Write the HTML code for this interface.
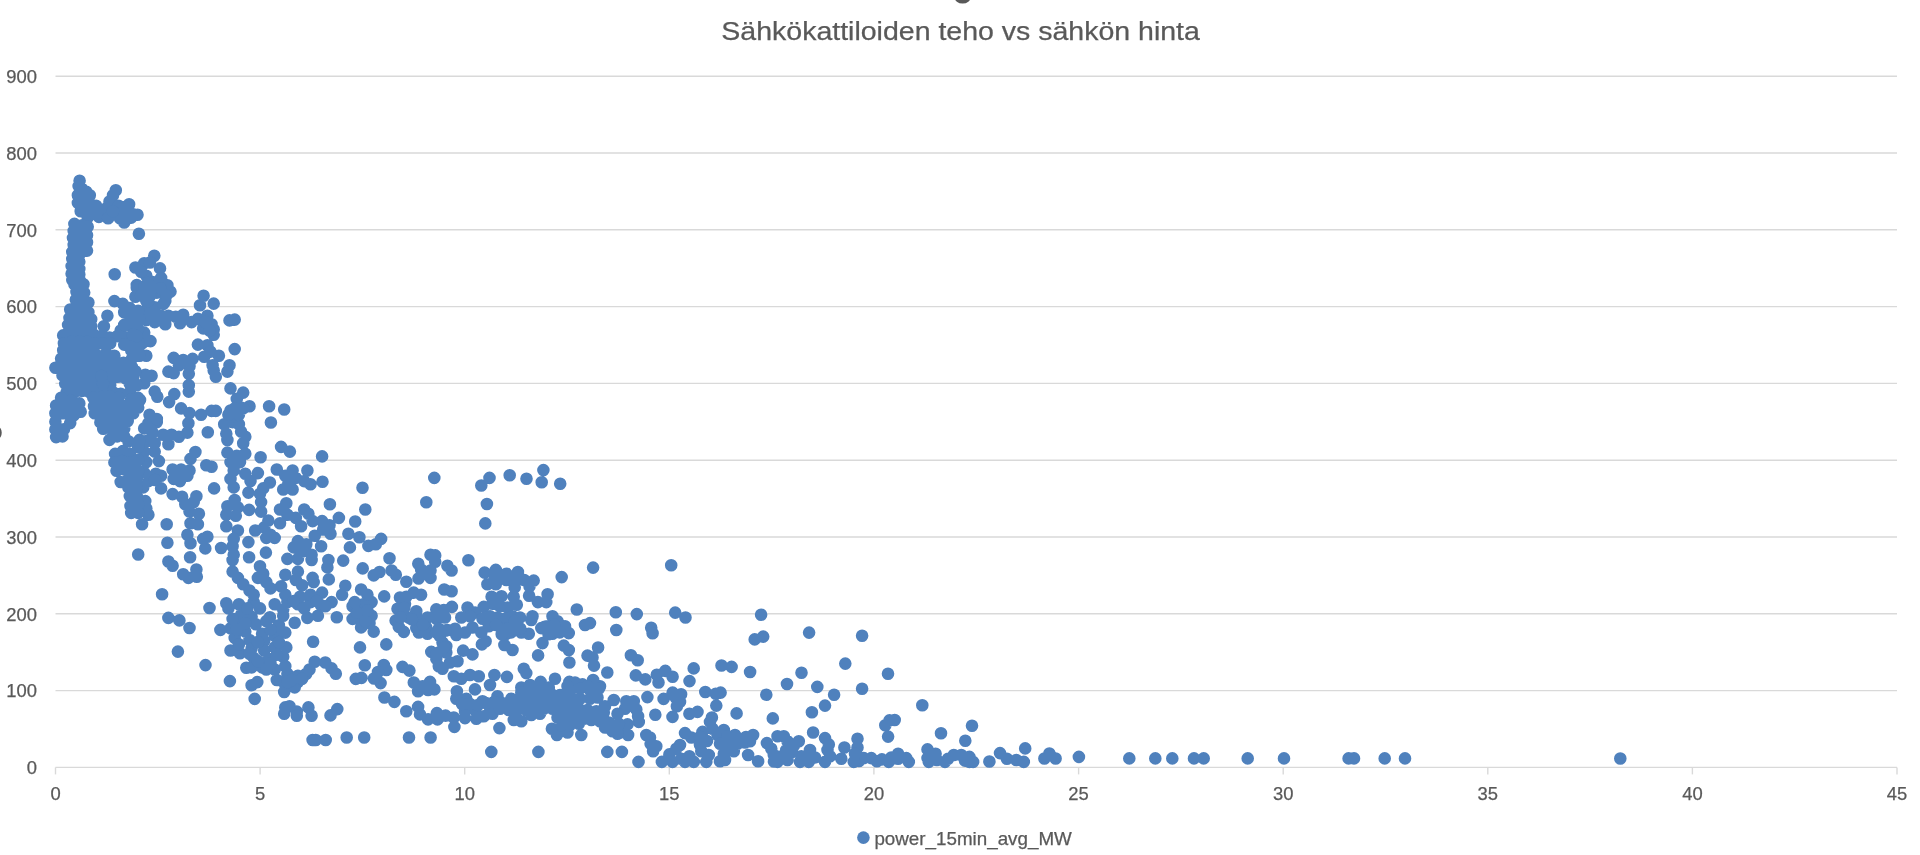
<!DOCTYPE html>
<html lang="fi">
<head>
<meta charset="utf-8">
<title>Sähkökattiloiden teho vs sähkön hinta</title>
<style>
html,body{margin:0;padding:0;background:#fff;}
body{width:1920px;height:855px;overflow:hidden;position:relative;font-family:"Liberation Sans",sans-serif;}
svg{position:absolute;left:0;top:0;display:block;will-change:transform;}
text{font-family:"Liberation Sans",sans-serif;fill:#595959;stroke:#595959;stroke-width:0.25px;}
.g line{stroke:#d9d9d9;stroke-width:1.4;}
.lbl text{font-size:18.4px;}
.pts path{fill:none;stroke:#4f81bd;stroke-width:12.6;stroke-linecap:round;}
</style>
</head>
<body>
<svg width="1920" height="855" viewBox="0 0 1920 855">
<rect width="1920" height="855" fill="#fff"/>
<!-- clipped remnants of cropped text -->
<ellipse cx="962.6" cy="-3.3" rx="6.7" ry="5.1" fill="none" stroke="#595959" stroke-width="3.4"/>
<ellipse cx="-1.5" cy="432.8" rx="3.2" ry="5.7" fill="#595959"/>
<!-- title -->
<text id="title" x="960.6" y="39.8" text-anchor="middle" font-size="25.8" textLength="478.6" lengthAdjust="spacingAndGlyphs">Sähkökattiloiden teho vs sähkön hinta</text>
<g class="g">
<line x1="55.5" y1="690.6" x2="1897.0" y2="690.6"/>
<line x1="55.5" y1="613.8" x2="1897.0" y2="613.8"/>
<line x1="55.5" y1="537.0" x2="1897.0" y2="537.0"/>
<line x1="55.5" y1="460.2" x2="1897.0" y2="460.2"/>
<line x1="55.5" y1="383.4" x2="1897.0" y2="383.4"/>
<line x1="55.5" y1="306.6" x2="1897.0" y2="306.6"/>
<line x1="55.5" y1="229.8" x2="1897.0" y2="229.8"/>
<line x1="55.5" y1="153.0" x2="1897.0" y2="153.0"/>
<line x1="55.5" y1="76.2" x2="1897.0" y2="76.2"/>
<line x1="55.5" y1="767.4" x2="1897.0" y2="767.4"/>
<line x1="55.5" y1="767.4" x2="55.5" y2="774.4"/>
<line x1="260.1" y1="767.4" x2="260.1" y2="774.4"/>
<line x1="464.7" y1="767.4" x2="464.7" y2="774.4"/>
<line x1="669.3" y1="767.4" x2="669.3" y2="774.4"/>
<line x1="873.9" y1="767.4" x2="873.9" y2="774.4"/>
<line x1="1078.6" y1="767.4" x2="1078.6" y2="774.4"/>
<line x1="1283.2" y1="767.4" x2="1283.2" y2="774.4"/>
<line x1="1487.8" y1="767.4" x2="1487.8" y2="774.4"/>
<line x1="1692.4" y1="767.4" x2="1692.4" y2="774.4"/>
<line x1="1897.0" y1="767.4" x2="1897.0" y2="774.4"/>
</g>
<g class="lbl">
<text x="36.9" y="774.1" text-anchor="end">0</text>
<text x="36.9" y="697.3" text-anchor="end">100</text>
<text x="36.9" y="620.5" text-anchor="end">200</text>
<text x="36.9" y="543.7" text-anchor="end">300</text>
<text x="36.9" y="466.9" text-anchor="end">400</text>
<text x="36.9" y="390.1" text-anchor="end">500</text>
<text x="36.9" y="313.3" text-anchor="end">600</text>
<text x="36.9" y="236.5" text-anchor="end">700</text>
<text x="36.9" y="159.7" text-anchor="end">800</text>
<text x="36.9" y="82.9" text-anchor="end">900</text>
<text x="55.5" y="800.3" text-anchor="middle">0</text>
<text x="260.1" y="800.3" text-anchor="middle">5</text>
<text x="464.7" y="800.3" text-anchor="middle">10</text>
<text x="669.3" y="800.3" text-anchor="middle">15</text>
<text x="873.9" y="800.3" text-anchor="middle">20</text>
<text x="1078.6" y="800.3" text-anchor="middle">25</text>
<text x="1283.2" y="800.3" text-anchor="middle">30</text>
<text x="1487.8" y="800.3" text-anchor="middle">35</text>
<text x="1692.4" y="800.3" text-anchor="middle">40</text>
<text x="1897.0" y="800.3" text-anchor="middle">45</text>
</g>
<g class="pts">
<path d="M1129.3 758.4h0M1155.3 758.4h0M1172.3 758.4h0M1194 758.4h0M1203.7 758.4h0M1247.7 758.4h0M1284 758.4h0M1348.6 758.4h0M1354 758.4h0M1384.7 758.4h0M1405 758.4h0M1620.3 758.5h0M862.1 635.8h0M888 673.7h0M862.1 688.8h0M922.3 705.3h0M885.3 725.3h0M889.5 720.4h0M894.7 720h0M888.1 736.6h0M941 733.3h0M972 725.7h0M965.3 740.8h0M857.5 738.8h0M857.5 747.5h0M1025.2 748.4h0M1078.9 756.9h0M863.8 758.1h0M859 761h0M871.3 758.1h0M876.9 761.3h0M881.9 759.4h0M888.8 761.9h0M891.3 757.5h0M898.1 753.8h0M898.1 758.8h0M906.3 758.1h0M908.8 761.9h0M927.5 749.4h0M927.5 758.1h0M928.8 761.9h0M935.6 753.8h0M936.9 760h0M945 761.9h0M948.1 758.8h0M953.8 755h0M961.3 755h0M965 760.6h0M969.4 756.9h0M969.4 761.9h0M973.1 761.9h0M989.4 761.5h0M1000 753.1h0M1006.9 758.8h0M1016.3 760h0M1023.8 761.9h0M1044.4 758.5h0M1049.4 753.5h0M1055.6 758.5h0M671.2 565.3h0M636.8 614.1h0M675.2 612.6h0M685.5 617.5h0M761.1 614.7h0M651.2 627.8h0"/>
<path d="M652.6 633.3h0M754.7 639.4h0M763.2 636.6h0M809.1 632.6h0M630.9 655.2h0M637.7 660.2h0M721.5 665.5h0M731.6 666.9h0M693.7 668.4h0M750.1 672h0M845.3 663.6h0M801.5 672.8h0M635.8 675.4h0M645.3 679.4h0M656.8 674.7h0M665.3 670.9h0M658.5 682.5h0M672.6 676.8h0M689.5 681.1h0M787 684h0M817.3 686.9h0M705.3 692h0M715.8 693.7h0M720.6 692.6h0M766.3 694.7h0M834.1 694.7h0M647.4 697.1h0M663.6 698.9h0M672.6 692.6h0M681.1 694.3h0M675.8 697.9h0M680 701.9h0M676.9 706.3h0M716.3 705.6h0M825 705.6h0M811.9 712.3h0M772.8 718.4h0M736.6 713.4h0M697.5 711.9h0M689.4 713.8h0M672.5 716.9h0M655.3 714.8h0M626.3 701.3h0M633.8 701.3h0M625 708.8h0M636.3 709.4h0M638.1 716.3h0M627.5 724.4h0M638.8 721.9h0M628.1 735h0M620 732.5h0M711.9 717.5h0M710 721.9h0M646.3 735h0M650 737.5h0M650.6 743.8h0M656.3 746.3h0M653.1 751.3h0M621.9 751.9h0M638.5 761.9h0M685 733.1h0M691.3 737.5h0M702.5 731.9h0M712.5 728.8h0M723.8 730h0M717.5 735h0"/>
<path d="M727.5 736.3h0M735 735h0M753.1 735h0M720 743.8h0M728.8 745h0M737.5 743.8h0M745 742.5h0M750 741.3h0M700 745h0M680 745h0M676.3 748.8h0M669.4 754.4h0M661.9 761.9h0M672.5 761.9h0M681.3 758.8h0M689.4 756.3h0M685 761.9h0M693.8 761.9h0M701.3 751.3h0M708.8 755h0M706.3 761.9h0M723.8 753.8h0M720 761.3h0M725 760h0M733.8 751.3h0M748.1 755h0M758.1 761.3h0M766.9 743.1h0M771.3 748.8h0M777.5 736.3h0M783.8 736.3h0M787.5 741.3h0M798.8 741.3h0M794.4 745h0M813.1 732.5h0M825 738.1h0M828.8 744.4h0M827.5 750h0M844.4 747.5h0M777.5 761.9h0M781.3 756.3h0M787.5 760h0M786.3 750h0M801.3 756.3h0M800 761.9h0M810 750h0M808.8 761.9h0M815 757.5h0M825 761.9h0M830 756.3h0M841.3 758.8h0M853.8 761.9h0M855 753.8h0M700 737h0M707 741h0M773.8 755h0M792 752h0M774 761.5h0M746 737h0M434.3 477.9h0M426.3 502.3h0M489.5 477.9h0M481.3 485.5h0M486.9 504h0M485.3 523.4h0M509.7 475.2h0M526.5 478.7h0M543.4 470.1h0M541.7 482.3h0M560.2 483.8h0"/>
<path d="M381.1 538.9h0M389.5 558.3h0M391.6 570.5h0M395.8 574.7h0M406.3 581.7h0M418.3 563.8h0M421.1 569.5h0M418.5 578.5h0M430.5 554.7h0M435.2 555.4h0M435.2 561.7h0M430.5 570.5h0M430.5 577.9h0M425.3 573.7h0M447.4 565.7h0M451.6 570.5h0M468.4 560.2h0M593.1 567.6h0M561.7 577.1h0M484.6 572.6h0M495.8 569.9h0M506.3 573.7h0M517.9 572h0M487.4 584.2h0M495.8 584.2h0M494.7 576.8h0M506.3 580h0M514.7 578.9h0M524.2 580h0M533.7 580.6h0M529.5 586.3h0M514.7 587.4h0M384.2 596.4h0M444.2 589.5h0M451.6 591.2h0M413.7 592.6h0M421.1 594.7h0M400 597.5h0M406.3 596.8h0M491.6 596.8h0M501.5 596.2h0M513.7 596.8h0M516.8 604.8h0M529.1 595.8h0M547.6 594.3h0M546.3 602.1h0M537.9 602.1h0M397.5 608.8h0M405 603.8h0M416.3 611.3h0M436.3 609.4h0M443.8 610h0M451.9 606.9h0M467.5 607.5h0M475 612.5h0M483.8 606.9h0M492.5 603.8h0M500 606.3h0M507.5 607.5h0M395.6 620.6h0M408.8 617.5h0M417.5 618.8h0M427.5 617.5h0M436.3 618.8h0M445 617.5h0"/>
<path d="M461.3 617.5h0M470 616.3h0M482.5 618.8h0M490 616.3h0M497.5 617.5h0M505 618.8h0M512.5 616.3h0M520 617.5h0M532.5 616.3h0M531.3 620h0M552.5 616.3h0M557.5 621.3h0M398.8 626.9h0M403.8 631.9h0M416.3 628.1h0M418.8 632.5h0M427.5 633.8h0M426.3 627.5h0M438.8 628.8h0M440 636.3h0M447.5 630h0M456.3 635h0M455 628.8h0M465 632.5h0M472.5 627.5h0M481.3 632.5h0M488.8 626.3h0M496.3 625h0M505 627.5h0M512.5 630h0M506.3 633.8h0M521.3 632.5h0M528.8 633.8h0M541.3 628.1h0M547.5 626.3h0M552.5 633.8h0M560 626.3h0M565 626.3h0M568.8 633.1h0M585 625h0M590 623.1h0M616.3 630h0M386.3 644.4h0M485.6 641.3h0M481.9 644.4h0M504.4 645h0M512.5 650h0M542.5 643.1h0M538.1 655.4h0M563.8 645.6h0M568.8 650h0M569.4 662.5h0M598.1 647.5h0M587.5 655.6h0M592.5 657.5h0M594 665.6h0M607.3 672.5h0M446.3 646.3h0M442.5 642.5h0M431.3 651.9h0M438.8 652.5h0M446.3 652.5h0M436.3 658.8h0M438.8 666.3h0M442.5 668.8h0M450 662.5h0M457.5 661.3h0"/>
<path d="M463.1 650.6h0M472.5 654.4h0M383.8 665h0M386.3 670h0M402.5 666.9h0M409.4 670.6h0M523.8 668.8h0M526.3 673.1h0M453.8 676.3h0M461.3 678.8h0M470 675h0M478.8 676.3h0M494.4 675h0M490 685h0M506.9 676.9h0M555 678.8h0M540.6 681.9h0M569.4 681.9h0M575 682.5h0M582.5 684.4h0M593.1 680h0M600 686.3h0M413.8 682.5h0M430 681.9h0M422.5 686.3h0M380.6 683.1h0M576.8 609.5h0M615.8 612.2h0M418.1 691.3h0M428.1 690h0M434.4 689.4h0M384.4 697.5h0M394.4 701.9h0M406.3 711.3h0M418.1 706.9h0M420 714.4h0M428.1 719.4h0M436.9 713.1h0M437.5 719.4h0M445.6 715.6h0M453.8 717.5h0M454.4 726.9h0M456.9 691.3h0M456.3 698.8h0M466.3 698.8h0M475 689.4h0M465 711.3h0M465 718.1h0M476.3 718.8h0M483.8 716.3h0M482.5 701.3h0M497.5 696.3h0M475 710h0M490 707.5h0M492.5 713.8h0M499.4 728.1h0M409 737.5h0M430.6 737.5h0M491.3 751.9h0M538.4 751.9h0M607.3 751.9h0M581.3 735h0M551.9 728.8h0M556.9 735h0M567.5 732.5h0M562.5 727.5h0M521.3 687.5h0"/>
<path d="M530 685h0M540 686.3h0M548.8 687.5h0M567.5 686.3h0M587.5 686.3h0M598.8 688.8h0M511.3 698.8h0M521.3 692.5h0M530 691.3h0M540 690h0M550 692.5h0M560 695h0M570 691.3h0M580 688.8h0M590 690h0M510 701.3h0M518.8 701.3h0M527.5 700h0M536.3 700h0M545 700h0M553.8 700h0M562.5 701.3h0M571.3 700h0M580 698.8h0M590 698.8h0M597.5 697.5h0M613.8 700h0M605 706.3h0M500 708.8h0M508.8 710h0M517.5 710h0M526.3 710h0M535 708.8h0M543.8 708.8h0M552.5 708.8h0M561.3 710h0M570 708.8h0M578.8 708.8h0M587.5 710h0M596.3 711.3h0M603.8 712.5h0M617.5 713.8h0M513.8 720h0M521.3 721.3h0M531.3 715h0M540 713.8h0M557.5 717.5h0M566.3 718.8h0M575 718.8h0M583.8 718.8h0M591.3 720h0M600 721.3h0M608.8 722.5h0M605 727.5h0M612.5 731.3h0M617.5 733.8h0M618.8 723.8h0M561.3 725h0M570 725h0M578.8 723.8h0M462 704h0M470 704h0M478 705h0M486 703h0M494 702h0M502 703h0M209.5 608h0M168.4 617.9h0M179.4 620.4h0M189.5 628h0M177.9 651.6h0M205.5 665.1h0"/>
<path d="M229.9 681.1h0M220.4 629.9h0M230.5 650.5h0M240 653.3h0M246.3 667.8h0M251.6 685.3h0M257.3 682.1h0M254.7 698.9h0M313.1 641.7h0M360 647.4h0M364.8 665.3h0M355.8 678.9h0M361.5 677.9h0M374 678.5h0M378 672h0M336.8 617.3h0M294.7 622.7h0M317.9 615.8h0M307.4 617.9h0M269.9 617.3h0M314.7 661.7h0M325.3 662.5h0M331.6 668.4h0M335.8 673.7h0M309.5 669.5h0M306.3 673.7h0M297.9 675.8h0M297.9 682.1h0M294.7 687.4h0M285.3 685.3h0M284.2 692h0M276.8 680h0M287.4 673.7h0M285.3 666.3h0M274.7 669.5h0M285.3 707.4h0M289.5 706.3h0M284.2 713.7h0M296.8 711.6h0M308.4 707.4h0M311.6 715.8h0M330.5 715.4h0M337.3 709.1h0M312.6 740h0M315.8 740h0M325.7 740h0M346.7 737.5h0M364.2 737.5h0M226.3 603.2h0M238.9 604.2h0M253.7 602.1h0M260 608.4h0M228.4 608.4h0M241.1 614.7h0M251.6 616.8h0M238.9 624.2h0M255.8 624.2h0M230.5 628.4h0M245.3 631.6h0M262.1 633.7h0M234.7 637.9h0M249.5 640h0M264.2 641.1h0M274.7 635.8h0M285.3 632.6h0M278.9 625.3h0"/>
<path d="M283.2 615.8h0M283.2 609.5h0M274.7 604.2h0M251.6 648.4h0M264.2 650.5h0M274.7 647.4h0M286.3 647.4h0M253.7 657.9h0M268.4 658.9h0M283.2 656.8h0M251.6 667.4h0M262.1 667.4h0M287.4 602.1h0M297.9 604.2h0M304.2 608.4h0M310.5 602.1h0M321.1 605.3h0M331.6 602.1h0M352.6 606.3h0M363.2 604.2h0M371.6 602.1h0M352.6 618.9h0M361.1 616.8h0M371.6 615.8h0M361.1 627.4h0M373.7 631.6h0M369.5 623.2h0M148.4 423.2h0M156.8 422.1h0M144.2 428.4h0M152.6 432.6h0M146.3 441.1h0M154.7 443.2h0M163.2 434.7h0M171.6 434.7h0M178.9 436.8h0M168.4 444.2h0M187.4 432.6h0M188.4 423.2h0M207.8 432.2h0M224.2 424.2h0M232.6 422.1h0M238.9 424.2h0M226.3 433.7h0M227.4 440h0M241.1 431.6h0M245.3 436.8h0M243.2 443.2h0M270.9 422.5h0M281.1 446.9h0M289.9 451.6h0M195.4 452h0M190.5 458.9h0M206.3 465.3h0M211.6 466.7h0M144.2 451.6h0M154.7 451.6h0M146.3 462.1h0M158.9 461.1h0M144.2 472.6h0M155.8 473.7h0M161.1 475.8h0M148.4 481.1h0M143.2 487.4h0"/>
<path d="M161.1 488.4h0M172.6 469.5h0M181.1 469.5h0M189.5 470.5h0M173.7 478.9h0M180 481.1h0M187.4 475.8h0M227.4 452.6h0M236.8 455.8h0M245.3 453.7h0M230.5 462.1h0M240 462.1h0M233.7 470.5h0M260.6 457.3h0M322.1 456.4h0M276.8 469.5h0M292.6 470.5h0M307.4 470.5h0M285.3 475.8h0M295.8 477.9h0M288.4 483.2h0M304.2 481.1h0M310.5 484.2h0M322.5 481.7h0M283.2 489.5h0M292.6 489.5h0M245.3 473.7h0M257.9 473.1h0M250.5 481.1h0M269.9 482.5h0M263.2 488.4h0M248.4 492.6h0M260 493.7h0M230.5 478.9h0M233.7 487.4h0M214.1 488.4h0M172.6 494.1h0M182.1 496.8h0M196.4 496.2h0M185.3 504.2h0M193.7 502.1h0M189.5 511.6h0M198.9 513.7h0M190.5 523.2h0M197.9 524.2h0M145.3 501.1h0M146.3 508.4h0M148.4 514.7h0M142.1 524.2h0M166.7 524.2h0M234.7 500h0M227.4 506.3h0M237.9 507.4h0M226.3 514.7h0M235.8 515.8h0M226.3 526.3h0M237.9 530.5h0M249.1 509.9h0M261.1 502.1h0M261.1 511.6h0M286.3 503.2h0M280 509.5h0M287.4 514.7h0M280 523.2h0M295.8 517.9h0"/>
<path d="M301.1 526.3h0M304.2 509.5h0M308.4 513.7h0M312.6 521.1h0M329.9 504.2h0M362.5 487.8h0M365.3 509.5h0M338.9 517.9h0M355.2 521.5h0M322.1 521.1h0M329.5 525.3h0M323.2 529.5h0M330.5 533.7h0M268.4 520.6h0M264.2 527.4h0M255.2 530.5h0M187.4 534.7h0M190.5 543.2h0M167.4 542.7h0M207.4 536.8h0M205.3 548.4h0M203.2 538.9h0M221.1 548h0M233.7 538.9h0M232.6 546.3h0M233.7 554.7h0M232.6 560h0M248.4 542.1h0M249.1 557.3h0M265.9 552.6h0M266.3 537.9h0M274.7 537.9h0M270.5 534.7h0M314.7 535.8h0M321.1 546.3h0M297.9 541.1h0M306.3 544.2h0M293.7 547.4h0M302.1 551.6h0M311.6 554.7h0M287.4 558.9h0M297.9 558.9h0M311.6 560h0M348.4 533.7h0M359.4 537.3h0M349.9 547.4h0M368.4 545.9h0M375.8 544.2h0M328.4 560h0M327.4 567.4h0M343.2 560.6h0M362.7 568.4h0M373.7 575.4h0M379.5 572h0M138.2 554.5h0M168.4 561.5h0M172.6 565.7h0M190.1 557.3h0M196.4 569.5h0M183.2 574.3h0M188.4 577.9h0M196.8 576.8h0M162.1 594.3h0M232.6 571.6h0M237.9 577.9h0"/>
<path d="M243.2 584.2h0M249.5 590.5h0M253.7 594.7h0M260 566.3h0M263.2 573.7h0M257.9 577.9h0M266.3 582.1h0M270.5 588.4h0M281.1 586.3h0M285.3 594.7h0M285.3 574.7h0M297.9 571.6h0M295.8 580h0M302.1 585.3h0M312.6 577.9h0M313.7 582.1h0M328.8 579.4h0M345.3 585.7h0M342.1 594.7h0M361.1 589.5h0M367.4 594.7h0M322.1 592.6h0M310.5 594.7h0M300 596.8h0M154.3 255.8h0M144.2 263.2h0M160 268.4h0M161.1 277.9h0M146.3 275.8h0M152.6 282.1h0M167.4 285.3h0M170.5 291.6h0M156.8 292.6h0M144.2 288.4h0M165.3 301.1h0M146.3 301.1h0M154.7 307.4h0M203.6 295.8h0M200 305.3h0M213.7 303.6h0M144.2 311.6h0M152.6 313.7h0M161.1 315.8h0M168.4 315.8h0M146.3 320h0M165.3 324.2h0M154.7 322.1h0M175.8 316.8h0M183.2 314.7h0M180 323.2h0M191.6 322.1h0M197.9 318.9h0M207.4 315.8h0M203.2 328.4h0M211.6 324.2h0M213.7 329.5h0M213.7 334.7h0M229.5 320.4h0M234.7 319.6h0M144.2 332.6h0M150.5 341.1h0M142.1 343.2h0M146.3 355.8h0M197.9 344.6h0M207.4 345.3h0"/>
<path d="M210.5 351.6h0M204.2 356.8h0M218.9 355.8h0M212.6 365.3h0M215.8 376.8h0M213.7 370.5h0M234.7 349.1h0M229.5 365.3h0M227.4 371.6h0M173.7 357.9h0M183.2 360h0M192.6 358.9h0M178.9 365.3h0M189.5 366.3h0M168.4 371.6h0M173.7 373.1h0M188.8 373.7h0M145.3 374.7h0M151.6 375.8h0M144.2 383.2h0M188.8 385.3h0M188.8 391.6h0M154.7 391.6h0M157.3 396.8h0M174.3 394.1h0M169.1 402.1h0M230.5 388.4h0M243.2 392.6h0M236.8 398.9h0M238.9 406.3h0M249.5 406.3h0M230.5 410.5h0M232.6 416.8h0M269.1 406.3h0M284.2 409.5h0M181.1 408.4h0M189.5 413.1h0M201.1 414.7h0M211.6 410.9h0M215.8 410.9h0M140 400h0M149.5 414.7h0M156.8 419h0M79.6 180.7h0M78.6 186.1h0M82.1 188.9h0M86.3 191.7h0M89.8 195.2h0M77.9 195.2h0M82.1 197.3h0M87.7 200.1h0M77.9 202.9h0M83.5 205.7h0M90.5 204.3h0M96.1 205.7h0M80.7 211.3h0M87.7 211.3h0M94.7 212.7h0M98.9 216.9h0M87.7 217.6h0M101.8 211.3h0M115.8 190.3h0M113 195.2h0M109.5 201.5h0M107.4 207.1h0M106 212.7h0"/>
<path d="M108.1 218.3h0M118.6 205.7h0M118.6 212.7h0M124.2 222.5h0M120 218.3h0M129.1 204.3h0M131.2 217.6h0M137.5 214.8h0M124.2 207.1h0M132.6 214.1h0M127 218.3h0M138.9 233.8h0M114.7 274.2h0M135.4 267.5h0M136.8 285h0M141.1 271.7h0M74.4 223.9h0M82.1 225.4h0M87.7 226.8h0M73.7 231h0M82.1 232.4h0M87 235.2h0M73 238h0M80.7 239.4h0M87 242.2h0M73.7 245h0M83.5 246.4h0M87 250.6h0M72.3 252h0M79.3 254.8h0M72.3 259h0M79.3 261.8h0M71.6 266.1h0M79.3 268.9h0M71.6 273.8h0M79.3 274.5h0M72.3 280.1h0M80.7 281.7h0M83.5 284.3h0M74.4 284.2h0M76.5 291.9h0M84.2 292.6h0M75.8 299.6h0M83.5 299.6h0M88.4 302.5h0M70.2 309.5h0M77.9 308.1h0M85.6 308.1h0M88.4 312.3h0M69.5 317.9h0M77.2 316.5h0M84.9 316.5h0M91.2 319.3h0M107.4 315.8h0M68.1 324.9h0M75.8 324.9h0M83.5 324.9h0M91.2 326.3h0M103.9 326.3h0M63.2 335.4h0M70.9 333.3h0M78.6 333.3h0M86.3 333.3h0M94 334.7h0M101.8 336.1h0M109.5 337.5h0M117.2 336.1h0M120.7 330.5h0M125.6 337.5h0"/>
<path d="M63.9 343.2h0M71.6 341.8h0M79.3 341.8h0M87 341.8h0M94.7 343.2h0M102.5 343.2h0M110.2 343.2h0M124.2 344.6h0M131.2 343.2h0M138.2 341.8h0M63.2 350.2h0M70.9 350.2h0M78.6 350.2h0M86.3 350.2h0M94 351.6h0M106 353h0M114.4 355.8h0M131.2 350.2h0M138.2 350.2h0M61.1 358.6h0M68.8 358.6h0M76.5 358.6h0M84.2 358.6h0M91.9 358.6h0M99.6 358.6h0M107.4 360h0M115.8 362.8h0M123.5 362.8h0M131.9 358.6h0M139.6 355.8h0M55.4 367.7h0M62.5 367h0M70.2 367h0M77.9 367h0M85.6 367h0M93.3 367h0M101.1 367h0M108.8 368.4h0M116.5 369.8h0M124.2 369.8h0M131.9 367h0M135.4 371.2h0M62.5 375.4h0M70.2 375.4h0M77.9 375.4h0M85.6 375.4h0M93.3 375.4h0M110.2 376.8h0M117.9 376.8h0M125.6 378.2h0M133.3 376.8h0M65.3 383.9h0M73 383.9h0M80.7 383.9h0M88.4 383.9h0M96.1 385.3h0M110.2 385.3h0M129.8 383.9h0M136.8 385.3h0M66.7 392.3h0M74.4 392.3h0M82.1 390.9h0M89.8 392.3h0M97.5 392.3h0M105.3 392.3h0M113 392.3h0M120.7 393.7h0M129.8 392.3h0"/>
<path d="M138.2 397.9h0M114.4 301.1h0M122.8 303.9h0M124.2 312.3h0M129.8 308.1h0M136.8 287.7h0M135.4 296.8h0M138.2 310.9h0M131.2 317.9h0M139.6 319.3h0M131.2 326.3h0M138.2 329.1h0M124.2 324.9h0M56.1 405.5h0M55.4 413.2h0M55.4 421.7h0M55.4 429.4h0M56.1 437.1h0M62.5 436.4h0M63.9 429.4h0M63.2 413.2h0M64.6 405.5h0M70.9 400.6h0M72.3 409h0M70.2 423.1h0M79.3 403.4h0M80.7 411.8h0M73.7 415.4h0M61.1 397.8h0M93.3 397.8h0M101.8 397.1h0M110.2 396.4h0M118.6 397.8h0M131.2 399.2h0M138.2 400.6h0M94 406.2h0M101.8 405.5h0M109.5 404.8h0M117.2 404.8h0M124.9 406.2h0M132.6 406.9h0M138.2 407.6h0M94.7 413.2h0M102.5 413.2h0M110.2 413.2h0M117.9 413.2h0M125.6 413.9h0M133.3 413.2h0M100.4 422.4h0M108.1 421h0M115.8 421h0M123.5 421h0M127.7 421h0M103.2 428.7h0M110.9 428.7h0M118.6 428.7h0M124.2 428.7h0M109.5 439.9h0M117.2 436.4h0M124.2 436.4h0M128.4 441.3h0M139.6 439.9h0M138.2 446.9h0M115.1 453.9h0M122.8 451.1h0M129.8 453.9h0"/>
<path d="M114.4 462.4h0M122.1 461h0M116.5 470.8h0M124.2 469.4h0M131.2 462.4h0M138.2 459.6h0M131.2 470.8h0M138.2 470.8h0M120.7 482h0M128.4 479.2h0M136.8 479.2h0M136.8 487.6h0M128.4 487.6h0M129.8 496.1h0M136.8 496.1h0M130.5 505.9h0M138.2 504.5h0M138.2 512.9h0M131.2 512.9h0M155 480h0M150 262.5h0M113 211.3h0M144.6 286.3h0M152.3 287.7h0M160.7 288.4h0M166.3 295.4h0M141.1 295.4h0M148.1 301.1h0M163.5 303.9h0M132.6 334.7h0M136.8 336.1h0M148 283h0M150 296h0M209.5 330.5h0M205.3 322.1h0M243.2 408.4h0M234.7 408.4h0M228.4 414.7h0M238.9 414.7h0M232.6 618.9h0M247.4 608.4h0M266.3 621.1h0M270.5 629.5h0M257.9 642.1h0M245.3 623.2h0M238.9 644.2h0M257.9 661.1h0M270.5 663.2h0M276.8 654.7h0M266.3 669.5h0M236.8 629.5h0M278.9 642.1h0M249.5 653.7h0M356.8 612.6h0M367.4 610.5h0M365.3 621.1h0M354.7 602.1h0M293.7 601.1h0M316.8 601.1h0M325.3 606.3h0M291.6 680h0M302.1 678.9h0M287.4 682.1h0M296.8 715.8h0M404.3 608h0M411.8 619.3h0"/>
<path d="M423.1 624.9h0M400.6 617.4h0M496.1 624.9h0M507.3 628.6h0M514.8 621.1h0M501.7 634.2h0M511.1 632.4h0M520.4 628.6h0M544.8 626.7h0M554.2 624.9h0M548.5 634.2h0M559.8 632.4h0M436.2 632.4h0M445.5 630.5h0M443.7 647.3h0M436.2 654.8h0M101.5 376h0M103 384h0"/>
</g>
<!-- legend -->
<circle cx="863.4" cy="837.6" r="6.3" fill="#4f81bd"/>
<text id="legend" x="874.4" y="844.6" font-size="17.8" textLength="197.4" lengthAdjust="spacingAndGlyphs">power_15min_avg_MW</text>
</svg>
</body>
</html>
